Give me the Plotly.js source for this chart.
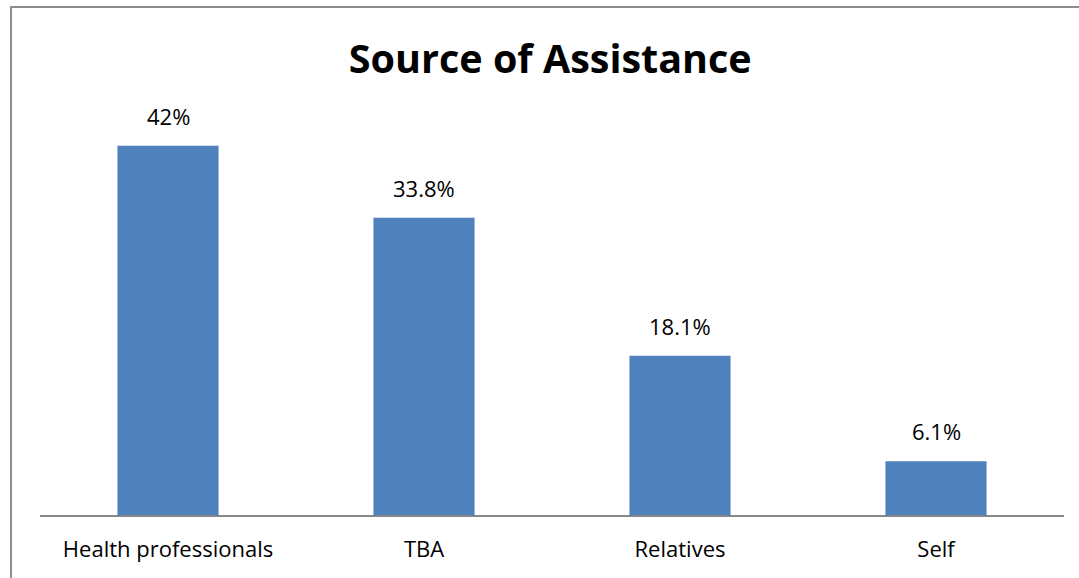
<!DOCTYPE html>
<html>
<head>
<meta charset="utf-8">
<script src="https://cdn.plot.ly/plotly-3.0.1.min.js"></script>
<style>html,body{margin:0;padding:0;background:#fff;}#chart{width:1079px;height:578px;}</style>
</head>
<body>
<div id="chart"></div>
<script>
const categories = ["Health professionals", "TBA", "Relatives", "Self"];
const values = [42, 33.8, 18.1, 6.1];
const valueLabels = ["42%", "33.8%", "18.1%", "6.1%"];

const trace = {
  type: "bar",
  x: categories,
  y: values,
  marker: {color: "#4F81BD"},
  hoverinfo: "skip"
};

const annotations = categories.map((c, i) => ({
  x: c, y: values[i], xref: "x", yref: "y",
  text: valueLabels[i], showarrow: false,
  yanchor: "bottom", yshift: 13,
  font: {family: "Open Sans, sans-serif", size: 22, color: "#000"}
}));

const layout = {
  width: 1079, height: 578,
  margin: {l: 40, r: 15, t: 93, b: 63},
  paper_bgcolor: "#fff", plot_bgcolor: "#fff",
  bargap: 0.605,
  showlegend: false,
  title: {
    text: "<b>Source of Assistance</b>",
    x: 0.51, xanchor: "center", y: 0.898, yanchor: "middle",
    font: {family: "Open Sans, sans-serif", size: 39.5, color: "#000"}
  },
  xaxis: {
    showline: true, linecolor: "#868686", linewidth: 2,
    ticks: "", ticklabelstandoff: 14,
    tickfont: {family: "Open Sans, sans-serif", size: 22, color: "#000"},
    showgrid: false, zeroline: false
  },
  yaxis: {
    range: [0, 48], visible: false, showgrid: false, zeroline: false
  },
  annotations: annotations,
  shapes: [{
    type: "rect", xref: "paper", yref: "paper",
    x0: -0.0283, x1: 1.2, y0: -0.5, y1: 1.2038,
    line: {color: "#8c8c8c", width: 2}
  }]
};

Plotly.newPlot("chart", [trace], layout, {displayModeBar: false, staticPlot: true});
</script>
</body>
</html>
